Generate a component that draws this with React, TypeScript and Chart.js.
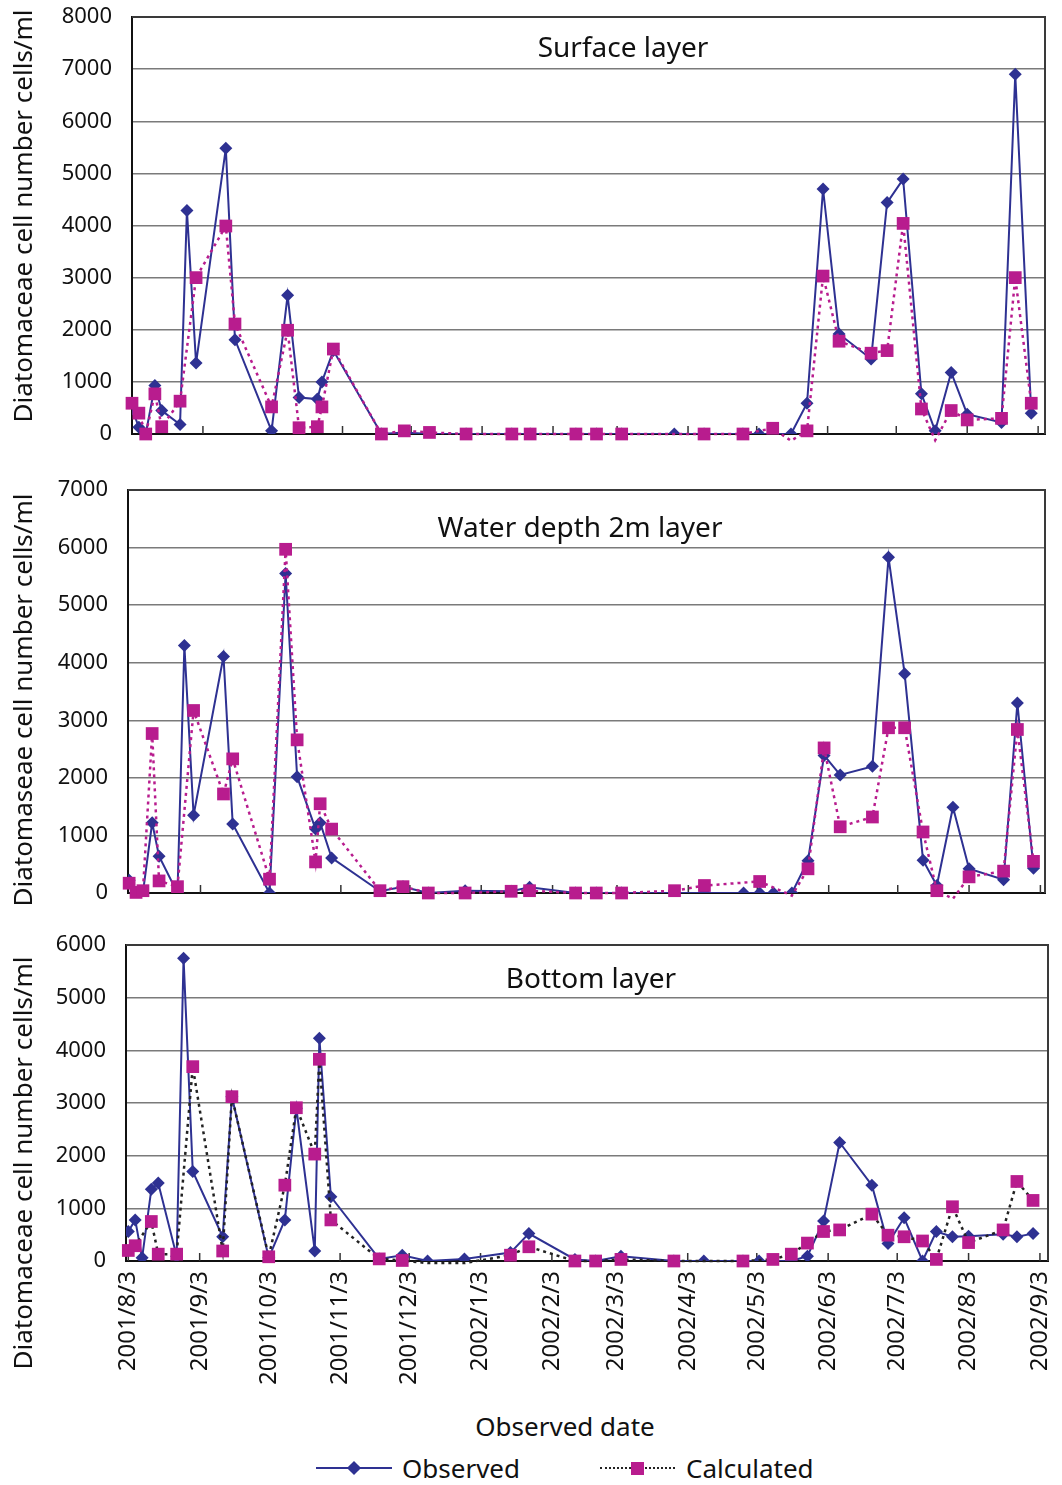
import React, { useEffect, useRef } from "react";
import { Chart, registerables } from "chart.js";

Chart.register(...registerables);

// ---------------- data ----------------
const START_DATE = "2001/8/3";

const monthTickLabels = [
  "2001/8/3", "2001/9/3", "2001/10/3", "2001/11/3", "2001/12/3", "2002/1/3", "2002/2/3",
  "2002/3/3", "2002/4/3", "2002/5/3", "2002/6/3", "2002/7/3", "2002/8/3", "2002/9/3",
];

const sampleDates = [
  "2001/8/3", "2001/8/6", "2001/8/9", "2001/8/13", "2001/8/16", "2001/8/24", "2001/8/27", "2001/8/31",
  "2001/9/13", "2001/9/17", "2001/10/3", "2001/10/10", "2001/10/15", "2001/10/23", "2001/10/25", "2001/10/30",
  "2001/11/20", "2001/11/30", "2001/12/11", "2001/12/27", "2002/1/16", "2002/1/24", "2002/2/13", "2002/2/22",
  "2002/3/5", "2002/3/28", "2002/4/10", "2002/4/27", "2002/5/4", "2002/5/10", "2002/5/18", "2002/5/25",
  "2002/6/1", "2002/6/8", "2002/6/22", "2002/6/29", "2002/7/6", "2002/7/14", "2002/7/20", "2002/7/27",
  "2002/8/3", "2002/8/18", "2002/8/24", "2002/8/31",
];

const surfaceObserved = [
  480, 130, 0, 930, 450, 180, 4290, 1360, 5480, 1810, 60, 2660, 700, 670, 1000, 1600,
  0, 30, 0, 0, 0, 0, 0, 0, 0, 0, 0, 0, 0, 0, 0, 590,
  4700, 1920, 1440, 4440, 4890, 770, 60, 1180, 380, 220, 6900, 400,
];
const surfaceCalculated = [
  590, 400, 0, 770, 140, 630, null, 3000, 3990, 2110, 520, 1990, 120, 140, 520, 1630,
  0, 60, 30, 0, 0, 0, 0, 0, 0, null, 0, 0, null, 110, -130, 60,
  3030, 1780, 1550, 1600, 4040, 480, -120, 450, 270, 300, 3000, 590,
];

const depth2mObserved = [
  220, 10, 10, 1220, 640, 0, 4300, 1350, 4110, 1200, 0, 5550, 2020, 1110, 1220, 610,
  30, 110, 0, 40, 30, 100, 0, 0, 0, 0, 0, 0, 0, 0, 0, 560,
  2390, 2050, 2200, 5830, 3810, 570, 130, 1490, 420, 230, 3300, 430,
];
const depth2mCalculated = [
  170, 10, 40, 2770, 210, 110, null, 3170, 1720, 2330, 240, 5970, 2660, 540, 1550, 1110,
  40, 110, 0, 0, 30, 40, 0, 0, 0, 40, 130, null, 200, null, -45, 420,
  2520, 1150, 1320, 2870, 2870, 1060, 40, -100, 280, 380, 2840, 550,
];

const bottomObserved = [
  560, 780, 60, 1360, 1480, 90, 5750, 1700, 460, 3120, 60, 780, 2900, 190, 4230, 1220,
  40, 110, 0, 40, 160, 520, 30, 0, 90, 0, 0, 0, 0, 0, 0, 90,
  760, 2250, 1440, 330, 820, 0, 560, 460, 470, 510, 460, 520,
];
const bottomCalculated = [
  200, 290, null, 750, 130, 130, null, 3690, 190, 3120, 80, 1440, 2910, 2030, 3830, 780,
  40, 10, -40, -40, 110, 270, 0, 0, 30, 0, null, 0, null, 30, 130, 340,
  560, 590, 890, 490, 460, 380, 30, 1030, 350, 590, 1510, 1150,
];

// ---------------- helpers ----------------
const NAVY = "#2E3192";
const MAGENTA = "#B81C8E";
const FONT = "'Noto Sans', 'DejaVu Sans', sans-serif";

function dayOffset(s: string): number {
  const [y, m, d] = s.split("/").map(Number);
  const [y0, m0, d0] = START_DATE.split("/").map(Number);
  return Math.round((Date.UTC(y, m - 1, d) - Date.UTC(y0, m0 - 1, d0)) / 86400000);
}

const monthDays = monthTickLabels.map(dayOffset);
const sampleDays = sampleDates.map(dayOffset);

function toPoints(values: (number | null)[]) {
  return values.map((v, i) => ({ x: sampleDays[i], y: v }));
}

const framePlugin = {
  id: "frame",
  beforeDatasetsDraw(chart: any) {
    const { ctx, chartArea: a, scales } = chart;
    const x = scales.x;
    ctx.save();
    ctx.strokeStyle = "#333";
    ctx.lineWidth = 1.5;
    monthDays.forEach((d) => {
      const px = x.getPixelForValue(d);
      if (px > a.left + 2 && px < a.right - 2) {
        ctx.beginPath();
        ctx.moveTo(px, a.bottom);
        ctx.lineTo(px, a.bottom - 8);
        ctx.stroke();
      }
    });
    ctx.strokeStyle = "#3a3a3a";
    ctx.lineWidth = 2;
    ctx.beginPath();
    ctx.moveTo(a.left, a.top);
    ctx.lineTo(a.right, a.top);
    ctx.lineTo(a.right, a.bottom);
    ctx.stroke();
    ctx.restore();
  },
};

type PanelProps = {
  top: number;
  height: number;
  padTop: number;
  padRight: number;
  axisWidth: number;
  xHeight: number;
  xMin: number;
  xMax: number;
  yMax: number;
  observed: (number | null)[];
  calculated: (number | null)[];
  calcLineColor: string;
  showXLabels: boolean;
};

function Panel(p: PanelProps) {
  const ref = useRef<HTMLCanvasElement>(null);
  useEffect(() => {
    if (!ref.current) return;
    const chart = new Chart(ref.current, {
      type: "line",
      data: {
        datasets: [
          {
            label: "Calculated",
            data: toPoints(p.calculated),
            borderColor: p.calcLineColor,
            borderWidth: 2.5,
            borderDash: [3, 4],
            pointStyle: "rect",
            pointRadius: (c: any) => (c.raw && c.raw.y !== null && c.raw.y < 0 ? 0 : 9),
            pointBackgroundColor: MAGENTA,
            pointBorderColor: MAGENTA,
            pointBorderWidth: 0,
            spanGaps: true,
            tension: 0,
            clip: false,
            order: 0,
          } as any,
          {
            label: "Observed",
            data: toPoints(p.observed),
            borderColor: NAVY,
            borderWidth: 2,
            pointStyle: "rectRot",
            pointRadius: 6.5,
            pointBackgroundColor: NAVY,
            pointBorderColor: NAVY,
            pointBorderWidth: 0,
            spanGaps: true,
            tension: 0,
            order: 1,
          } as any,
        ],
      },
      options: {
        animation: false,
        responsive: false,
        maintainAspectRatio: false,
        events: [],
        layout: { padding: { top: p.padTop, right: p.padRight, left: 0, bottom: 0 } },
        plugins: { legend: { display: false }, tooltip: { enabled: false }, title: { display: false } },
        scales: {
          x: {
            type: "linear",
            min: p.xMin,
            max: p.xMax,
            afterBuildTicks: (s: any) => {
              s.ticks = monthDays.map((v) => ({ value: v }));
            },
            afterFit: (s: any) => {
              s.height = p.xHeight;
              s.paddingLeft = 0;
              s.paddingRight = 0;
              s.paddingTop = 0;
              s.paddingBottom = 0;
            },
            ticks: {
              display: p.showXLabels,
              autoSkip: false,
              minRotation: 90,
              maxRotation: 90,
              padding: 10,
              color: "#111",
              font: { family: FONT, size: 24 },
              callback: (v: any) => {
                const i = monthDays.indexOf(Number(v));
                return i >= 0 ? monthTickLabels[i] : "";
              },
            },
            grid: { display: false, drawTicks: false },
            border: { display: true, color: "#111", width: 2 },
          },
          y: {
            min: 0,
            max: p.yMax,
            afterFit: (s: any) => {
              s.width = p.axisWidth;
              s.paddingTop = 0;
              s.paddingBottom = 0;
              s.paddingLeft = 0;
              s.paddingRight = 0;
            },
            ticks: {
              stepSize: 1000,
              padding: 20,
              color: "#111",
              font: { family: FONT, size: 22 },
              callback: (v: any) => String(v),
            },
            grid: { color: "#7a7a7a", lineWidth: 1.5, drawTicks: false },
            border: { display: true, color: "#111", width: 2 },
          },
        },
      } as any,
      plugins: [framePlugin],
    });
    return () => chart.destroy();
  }, []);
  return (
    <canvas
      ref={ref}
      width={1062}
      height={p.height}
      style={{ position: "absolute", left: 0, top: p.top, width: 1062, height: p.height }}
    />
  );
}

const textBase: React.CSSProperties = {
  position: "absolute",
  fontFamily: FONT,
  color: "#111",
  whiteSpace: "nowrap",
  lineHeight: 1,
};

function Centered({ x, y, size, text, rotate }: { x: number; y: number; size: number; text: string; rotate?: boolean }) {
  return (
    <div
      style={{
        ...textBase,
        left: x,
        top: y,
        fontSize: size,
        transform: `translate(-50%, -50%)${rotate ? " rotate(-90deg)" : ""}`,
      }}
    >
      {text}
    </div>
  );
}

export default function App() {
  return (
    <div style={{ position: "absolute", left: 0, top: 0, width: 1062, height: 1485, background: "#fff", overflow: "hidden" }}>
      <Panel top={0} height={450} padTop={17} padRight={17} axisWidth={132} xHeight={16}
        xMin={0} xMax={399} yMax={8000} observed={surfaceObserved} calculated={surfaceCalculated}
        calcLineColor={MAGENTA} showXLabels={false} />
      <Panel top={470} height={440} padTop={20} padRight={17} axisWidth={128} xHeight={17}
        xMin={-0.5} xMax={398} yMax={7000} observed={depth2mObserved} calculated={depth2mCalculated}
        calcLineColor={MAGENTA} showXLabels={false} />
      <Panel top={920} height={480} padTop={25} padRight={14} axisWidth={126} xHeight={139}
        xMin={-1} xMax={399.5} yMax={6000} observed={bottomObserved} calculated={bottomCalculated}
        calcLineColor={"#222"} showXLabels={true} />

      <Centered x={623} y={46} size={28} text="Surface layer" />
      <Centered x={580} y={526} size={28} text="Water depth 2m layer" />
      <Centered x={591} y={977} size={28} text="Bottom layer" />

      <Centered x={22} y={216} size={26} text="Diatomaceae cell number cells/ml" rotate />
      <Centered x={22} y={700} size={26} text="Diatomaseae cell number cells/ml" rotate />
      <Centered x={22} y={1163} size={26} text="Diatomaceae cell number cells/ml" rotate />

      <Centered x={565} y={1426} size={26} text="Observed date" />

      {/* legend */}
      <div style={{ position: "absolute", left: 316, top: 1467, width: 76, height: 2, background: NAVY }} />
      <div style={{ position: "absolute", left: 349, top: 1463, width: 10, height: 10, background: NAVY, transform: "rotate(45deg)" }} />
      <div style={{ ...textBase, left: 402, top: 1468, fontSize: 26, transform: "translateY(-50%)" }}>Observed</div>

      <div style={{ position: "absolute", left: 600, top: 1467, width: 75, height: 0, borderTop: "2px dotted #222" }} />
      <div style={{ position: "absolute", left: 631, top: 1462, width: 13, height: 13, background: MAGENTA }} />
      <div style={{ ...textBase, left: 686, top: 1468, fontSize: 26, transform: "translateY(-50%)" }}>Calculated</div>
    </div>
  );
}
